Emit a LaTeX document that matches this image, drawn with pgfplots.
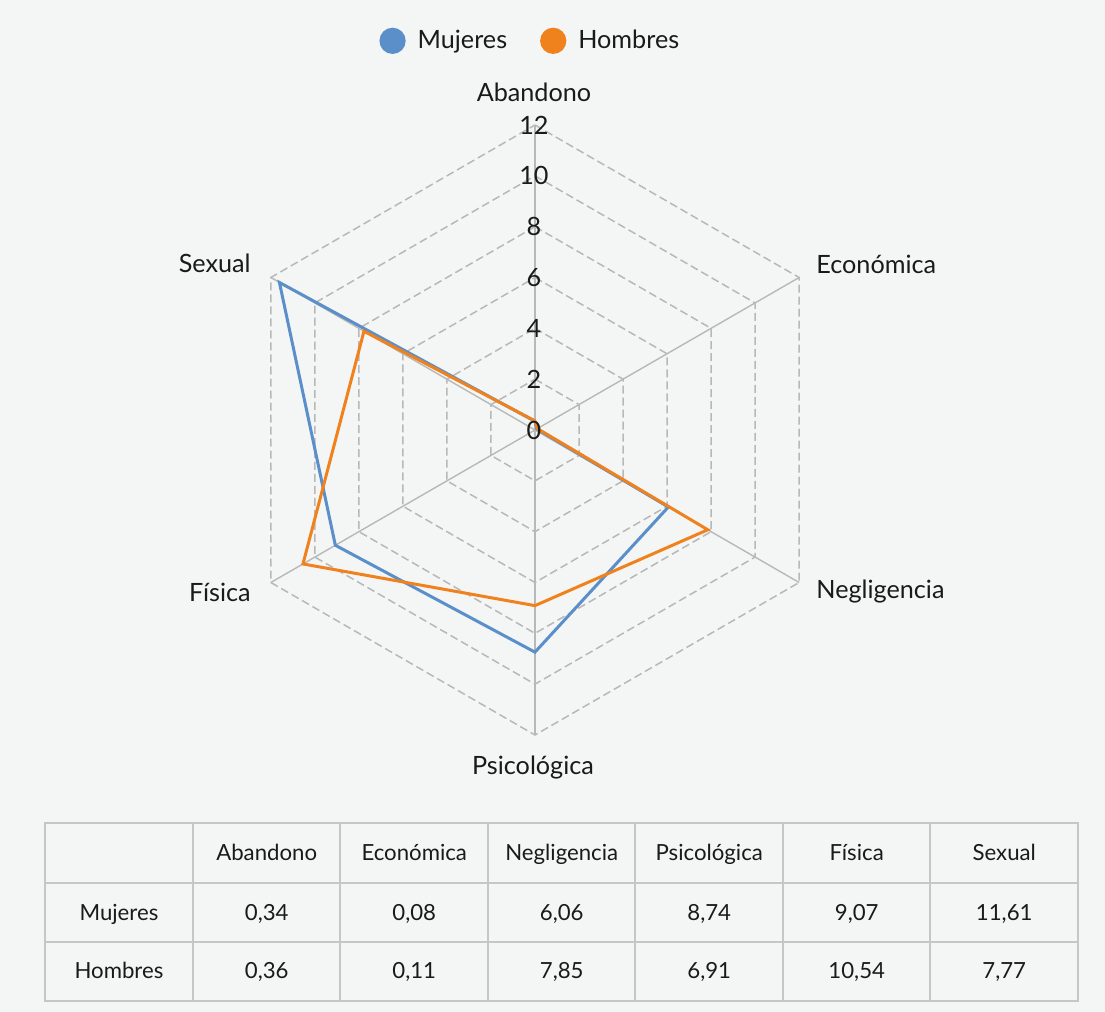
\documentclass[border=0pt]{standalone}
\usepackage{fontspec}
\setmainfont{Lato}
\usepackage{pgfplots}
\pgfplotsset{compat=1.18}
\usepgfplotslibrary{polar}

\definecolor{bg}{HTML}{F4F5F5}
\definecolor{mujeres}{HTML}{5B8FC9}
\definecolor{hombres}{HTML}{F0821E}
\definecolor{gridc}{HTML}{B8B8B8}
\definecolor{spoke}{HTML}{B8B8B8}
\definecolor{tabline}{HTML}{C6C6C6}
\definecolor{txt}{HTML}{1A1A1A}

\begin{document}
\begin{tikzpicture}[font=\fontsize{12.6}{14}\selectfont, text=txt,
    tick lbl/.style={inner sep=0pt, anchor=center, xshift=-0.5pt},
    hexgrid/.style={gridc, line width=0.75pt, dash pattern=on 4pt off 2pt}]
% page in reference pixels, 0.5pt per pixel, radar centre at (535,430)
\begin{scope}[x=0.5pt,y=-0.5pt,shift={(-535,-430)}]
  \fill[bg] (0,0) rectangle (1105,1012);
\end{scope}

\begin{polaraxis}[
    at={(0,0)}, anchor=center,
    scale only axis, width=305pt, height=305pt,
    ymin=0, ymax=12,
    hide axis, clip=false,
    legend columns=2,
    legend style={at={(0.494,1.138)}, anchor=center, draw=none, fill=none,
      font=\fontsize{12.6}{14}\selectfont,
      /tikz/every odd column/.append style={column sep=4pt},
      /tikz/every even column/.append style={column sep=14.5pt}},
    legend image code/.code={\fill[#1] (0pt,0pt) circle (5.8pt);},
  ]
  % grid
  \addplot[forget plot, hexgrid] coordinates {(90,2)(30,2)(330,2)(270,2)(210,2)(150,2)(90,2)};
  \addplot[forget plot, hexgrid] coordinates {(90,4)(30,4)(330,4)(270,4)(210,4)(150,4)(90,4)};
  \addplot[forget plot, hexgrid] coordinates {(90,6)(30,6)(330,6)(270,6)(210,6)(150,6)(90,6)};
  \addplot[forget plot, hexgrid] coordinates {(90,8)(30,8)(330,8)(270,8)(210,8)(150,8)(90,8)};
  \addplot[forget plot, hexgrid] coordinates {(90,10)(30,10)(330,10)(270,10)(210,10)(150,10)(90,10)};
  \addplot[forget plot, hexgrid] coordinates {(90,12)(30,12)(330,12)(270,12)(210,12)(150,12)(90,12)};
  \addplot[forget plot, spoke, line width=0.7pt] coordinates {(90,12)(270,12)};
  \addplot[forget plot, spoke, line width=0.7pt] coordinates {(30,12)(210,12)};
  \addplot[forget plot, spoke, line width=0.7pt] coordinates {(150,12)(330,12)};

  % data: Abandono, Económica, Negligencia, Psicológica, Física, Sexual
  \addplot[color=mujeres, line width=1.5pt] coordinates {(90,0.34)(30,0.08)(330,6.06)(270,8.74)(210,9.07)(150,11.61)(90,0.34)};
  \addlegendentry{Mujeres}
  \addplot[color=hombres, line width=1.5pt] coordinates {(90,0.36)(30,0.11)(330,7.85)(270,6.91)(210,10.54)(150,7.77)(90,0.36)};
  \addlegendentry{Hombres}

  \node[tick lbl] at (axis cs:90,0) {0};
  \node[tick lbl] at (axis cs:90,2) {2};
  \node[tick lbl] at (axis cs:90,4) {4};
  \node[tick lbl] at (axis cs:90,6) {6};
  \node[tick lbl] at (axis cs:90,8) {8};
  \node[tick lbl] at (axis cs:90,10) {10};
  \node[tick lbl] at (axis cs:90,12) {12};
\end{polaraxis}

\begin{scope}[x=0.5pt,y=-0.5pt,shift={(-535,-430)}]
  \node[inner sep=0pt, anchor=base] at (534,102) {Abandono};
  \node[inner sep=0pt, anchor=base west] at (816,274) {Económica};
  \node[inner sep=0pt, anchor=base west] at (816,599) {Negligencia};
  \node[inner sep=0pt, anchor=base] at (533,775) {Psicológica};
  \node[inner sep=0pt, anchor=base east] at (251,602) {Física};
  \node[inner sep=0pt, anchor=base east] at (251,273) {Sexual};

  % table
  \draw[tabline, line width=1pt] (45,823) rectangle (1078,1001);
  \draw[tabline, line width=1pt] (45,883) -- (1078,883) (45,942) -- (1078,942);
  \foreach \x in {193,340.5,488,635.5,783,930.5}{
    \draw[tabline, line width=1pt] (\x,823) -- (\x,1001);
  }
  \begin{scope}[every node/.style={inner sep=0pt, anchor=base, font=\fontsize{11.1}{13}\selectfont}]
    \node at (266.75,860) {Abandono};
    \node at (414.25,860) {Económica};
    \node at (561.75,860) {Negligencia};
    \node at (709.25,860) {Psicológica};
    \node at (856.75,860) {Física};
    \node at (1004.25,860) {Sexual};
    \node at (119,920) {Mujeres};
    \node at (266.75,920) {0,34};
    \node at (414.25,920) {0,08};
    \node at (561.75,920) {6,06};
    \node at (709.25,920) {8,74};
    \node at (856.75,920) {9,07};
    \node at (1004.25,920) {11,61};
    \node at (119,978) {Hombres};
    \node at (266.75,978) {0,36};
    \node at (414.25,978) {0,11};
    \node at (561.75,978) {7,85};
    \node at (709.25,978) {6,91};
    \node at (856.75,978) {10,54};
    \node at (1004.25,978) {7,77};
  \end{scope}
\end{scope}
\end{tikzpicture}
\end{document}
